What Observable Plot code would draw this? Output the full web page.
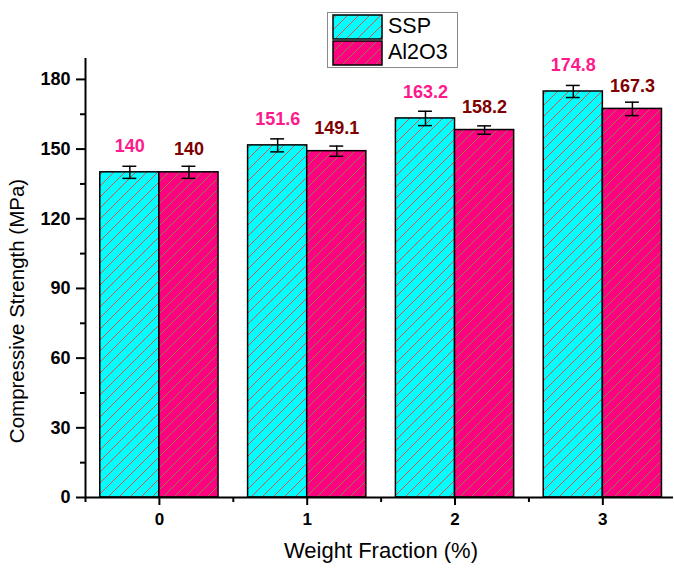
<!DOCTYPE html>
<html>
<head>
<meta charset="utf-8">
<script src="https://cdn.jsdelivr.net/npm/d3@7"></script>
<script src="https://cdn.jsdelivr.net/npm/@observablehq/plot@0.6"></script>
<style>
  html, body { margin: 0; padding: 0; background: #fff; }
  #chart { width: 674px; height: 568px; }
</style>
</head>
<body>
<div id="chart"></div>
<script>
// ---- data ----
const categories = [0, 1, 2, 3];
const seriesNames = ["SSP", "Al2O3"];
const sspValues = [140, 151.6, 163.2, 174.8];
const sspErrors = [2.6, 2.8, 3.1, 2.6];
const al2o3Values = [140, 149.1, 158.2, 167.3];
const al2o3Errors = [2.6, 2.2, 1.8, 2.9];
const yTicks = [0, 30, 60, 90, 120, 150, 180];
const yMinorTicks = [15, 45, 75, 105, 135, 165];
const xMinorTicks = [-0.5, 0.5, 1.5, 2.5];

const FONT = "Liberation Sans, Arial, Helvetica, sans-serif";
const barHalf = 0.4;      // bar width in category units
const capHalf = 0.047;    // error cap half width in category units

const rows = [];
categories.forEach((c, i) => {
  rows.push({cat: c, series: "SSP", value: sspValues[i], err: sspErrors[i], x1: c - barHalf, x2: c, xc: c - barHalf / 2});
  rows.push({cat: c, series: "Al2O3", value: al2o3Values[i], err: al2o3Errors[i], x1: c, x2: c + barHalf, xc: c + barHalf / 2});
});
const ssp = rows.filter(d => d.series === "SSP");
const al = rows.filter(d => d.series === "Al2O3");

const fillFor = s => s === "SSP" ? "url(#hatchSSP)" : "url(#hatchAl)";

const plot = Plot.plot({
  width: 674,
  height: 568,
  marginLeft: 85,
  marginRight: 1,
  marginTop: 58,
  marginBottom: 71,
  style: {fontFamily: FONT, background: "#fff", overflow: "visible"},
  x: {domain: [-0.5, 3.478], axis: null},
  y: {domain: [0, 189], axis: null},
  marks: [
    Plot.rectY(rows, {x1: "x1", x2: "x2", y1: 0, y2: "value", fill: d => fillFor(d.series), stroke: "#000", strokeWidth: 1.5}),
    // error bars
    Plot.ruleX(rows, {x: "xc", y1: d => d.value - d.err, y2: d => d.value + d.err, stroke: "#000", strokeWidth: 1.5}),
    Plot.ruleY(rows, {y: d => d.value + d.err, x1: d => d.xc - capHalf, x2: d => d.xc + capHalf, stroke: "#000", strokeWidth: 1.5}),
    Plot.ruleY(rows, {y: d => d.value - d.err, x1: d => d.xc - capHalf, x2: d => d.xc + capHalf, stroke: "#000", strokeWidth: 1.5}),
    // value labels
    Plot.text(ssp, {x: "xc", y: "value", text: d => String(d.value), dy: -26.5, fill: "#ff1a8c", fontSize: 18, fontWeight: "bold", fontFamily: FONT}),
    Plot.text(al, {x: "xc", y: "value", text: d => String(d.value), dy: -23, fill: "#800000", fontSize: 18, fontWeight: "bold", fontFamily: FONT}),
    // axes
    Plot.axisY({ticks: yTicks, tickSize: 9, tickPadding: 6, strokeWidth: 2, fontSize: 18, fontWeight: "bold", fontFamily: FONT, fill: "#000", label: null}),
    Plot.axisY({ticks: yMinorTicks, tickSize: 5, strokeWidth: 2, text: null, label: null}),
    Plot.axisX({ticks: categories, tickSize: 8, tickPadding: 7, strokeWidth: 2, fontSize: 17, fontWeight: "bold", fontFamily: FONT, fill: "#000", label: null, tickFormat: d => String(d)}),
    Plot.axisX({ticks: xMinorTicks, tickSize: 5, strokeWidth: 2, text: null, label: null}),
    Plot.ruleX([-0.5], {stroke: "#000", strokeWidth: 2}),
    Plot.ruleY([0], {stroke: "#000", strokeWidth: 2, x1: -0.5, x2: 3.478})
  ]
});

document.getElementById("chart").appendChild(plot);

const svg = d3.select(plot);
// hatch patterns
const defs = svg.insert("defs", ":first-child");
function hatch(id, bg, line, w) {
  const p = defs.append("pattern").attr("id", id).attr("patternUnits", "userSpaceOnUse")
    .attr("width", 11).attr("height", 11);
  p.append("rect").attr("width", 11).attr("height", 11).attr("fill", bg);
  p.append("path").attr("d", "M0,11 L11,0 M-2,2 L2,-2 M9,13 L13,9")
    .attr("stroke", line).attr("stroke-width", w).attr("fill", "none");
}
hatch("hatchSSP", "#00ffff", "#e0504a", 1);
hatch("hatchAl", "#ff0080", "#5fa83a", 0.8);

// axis titles
svg.append("text").attr("x", 381).attr("y", 552).attr("text-anchor", "middle")
  .attr("dominant-baseline", "middle").attr("font-family", FONT).attr("font-size", 22)
  .attr("fill", "#000").text("Weight Fraction (%)");
svg.append("text").attr("transform", "translate(19,311) rotate(-90)").attr("text-anchor", "middle")
  .attr("dominant-baseline", "middle").attr("font-family", FONT).attr("font-size", 20.5)
  .attr("fill", "#000").text("Compressive Strength (MPa)");

// legend
const lg = svg.append("g");
lg.append("rect").attr("x", 327.5).attr("y", 12.5).attr("width", 130).attr("height", 55)
  .attr("fill", "#fff").attr("stroke", "#8a8a8a").attr("stroke-width", 1);
seriesNames.forEach((s, i) => {
  const y0 = 15 + i * 26;
  lg.append("rect").attr("x", 333).attr("y", y0).attr("width", 49).attr("height", 24)
    .attr("fill", fillFor(s)).attr("stroke", "#000").attr("stroke-width", 1.5);
  lg.append("text").attr("x", 388).attr("y", y0 + 12).attr("text-anchor", "start")
    .attr("dominant-baseline", "middle")
    .attr("font-family", FONT).attr("font-size", 21.5).attr("fill", "#000").text(s);
});
</script>
</body>
</html>
